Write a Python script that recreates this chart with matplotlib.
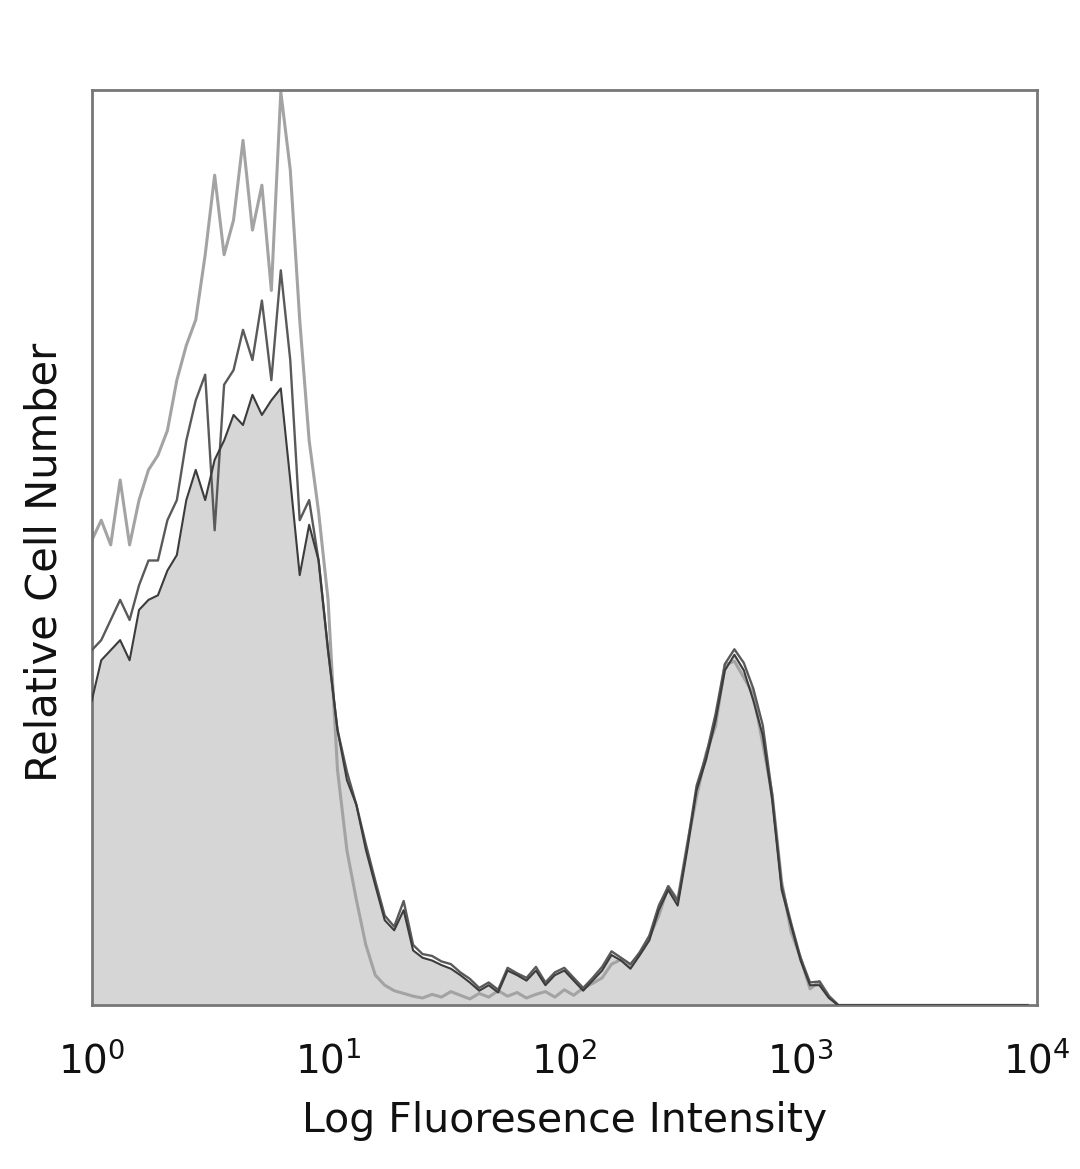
import numpy as np
import matplotlib
matplotlib.use("Agg")
import matplotlib.pyplot as plt

# channel positions (log10 of fluorescence), 25 channels per decade
log_step = 0.04
n_ch = 100

sample_filled = [33.3, 37.7, 38.8, 39.9, 37.7, 43.2, 44.3, 44.8, 47.5, 49.2,
                 55.2, 58.5, 55.2, 59.6, 61.7, 64.5, 63.4, 66.7, 64.5, 66.1,
                 67.4, 57.4, 47.0, 52.5, 48.6, 38.8, 30.1, 24.6, 21.9, 17.0,
                 13.1, 9.3, 8.2, 10.4, 6.0, 5.2, 4.9, 4.4, 4.0, 3.3,
                 2.5, 1.6, 2.2, 1.4, 3.8, 3.3, 2.7, 3.8, 2.2, 3.3,
                 3.8, 2.7, 1.6, 2.7, 3.8, 5.5, 4.9, 4.0, 5.5, 7.1,
                 10.4, 12.6, 10.9, 16.9, 23.5, 26.8, 31.1, 36.6, 38.3, 36.6,
                 33.3, 29.5, 22.4, 12.6, 8.7, 4.9, 2.2, 2.2, 0.8, 0.0,
                 0, 0, 0, 0, 0, 0, 0, 0, 0, 0,
                 0, 0, 0, 0, 0, 0, 0, 0, 0, 0]

sample_dark = [38.8, 39.9, 42.1, 44.3, 42.1, 45.9, 48.6, 48.6, 53.0, 55.2,
               61.7, 66.1, 68.9, 51.9, 67.8, 69.4, 73.8, 70.5, 77.0, 68.3,
               80.3, 70.5, 53.0, 55.2, 48.6, 38.8, 30.1, 25.5, 21.9, 17.6,
               13.6, 9.8, 8.6, 11.4, 6.6, 5.6, 5.4, 4.8, 4.5, 3.6,
               2.9, 1.9, 2.5, 1.7, 4.1, 3.5, 3.0, 4.2, 2.5, 3.6,
               4.1, 3.0, 1.9, 3.0, 4.2, 5.9, 5.2, 4.5, 5.8, 7.6,
               10.9, 13.0, 11.4, 17.4, 24.0, 27.3, 31.8, 37.3, 38.9, 37.4,
               34.6, 30.6, 23.0, 13.1, 9.0, 5.2, 2.5, 2.6, 1.0, 0.0,
               0, 0, 0, 0, 0, 0, 0, 0, 0, 0,
               0, 0, 0, 0, 0, 0, 0, 0, 0, 0]

sample_light = [50.8, 53.0, 50.3, 57.4, 50.3, 55.2, 58.5, 60.1, 62.8, 68.3,
                72.1, 74.9, 82.0, 90.7, 82.0, 85.8, 94.5, 84.7, 89.6, 78.1,
                99.8, 91.3, 74.9, 61.7, 53.9, 44.3, 25.7, 16.9, 11.5, 6.6,
                3.3, 2.2, 1.6, 1.3, 1.0, 0.8, 1.2, 0.9, 1.5, 1.1,
                0.7, 1.3, 0.9, 1.6, 1.0, 1.4, 0.8, 1.2, 1.5, 0.9,
                1.7, 1.1, 1.9, 2.4, 3.0, 4.5, 5.0, 4.2, 5.8, 7.5,
                9.8, 13.0, 11.5, 17.5, 22.8, 27.5, 30.5, 37.2, 37.6, 35.8,
                34.0, 28.6, 23.0, 13.5, 8.0, 5.2, 1.8, 2.6, 1.0, 0.0,
                0, 0, 0, 0, 0, 0, 0, 0, 0, 0,
                0, 0, 0, 0, 0, 0, 0, 0, 0, 0]

tick_values = [1, 10, 100, 1000, 10000]
tick_labels = [r"$10^{0}$", r"$10^{1}$", r"$10^{2}$", r"$10^{3}$", r"$10^{4}$"]
x_label = "Log Fluoresence Intensity"
y_label = "Relative Cell Number"

x = 10 ** (np.arange(n_ch) * log_step)

plt.rcParams["font.family"] = ["DejaVu Sans"]
plt.rcParams["mathtext.fontset"] = "dejavusans"

fig = plt.figure(figsize=(10.8, 11.69), dpi=100)
ax = fig.add_axes([0.085, 0.140, 0.875, 0.783])

ax.fill_between(x, 0, sample_filled, color="#d6d6d6", linewidth=0, zorder=1)
ax.plot(x, sample_light, color="#a3a3a3", linewidth=2.2, zorder=2)
ax.plot(x, sample_dark, color="#5a5a5a", linewidth=1.7, zorder=3)
ax.plot(x, sample_filled, color="#3c3c3c", linewidth=1.5, zorder=4)

ax.set_xscale("log")
ax.set_xlim(1, 10000)
ax.set_ylim(0, 100)
ax.set_xticks(tick_values)
ax.set_xticklabels(tick_labels, fontsize=28)
ax.xaxis.set_minor_locator(matplotlib.ticker.NullLocator())
ax.tick_params(axis="x", length=0, pad=26, colors="#111111")
ax.set_yticks([])

ax.set_xlabel(x_label, fontsize=29.5, labelpad=14, color="#111111")
ax.set_ylabel(y_label, fontsize=30, color="#111111")
ax.yaxis.set_label_coords(-0.028, 0.484)

for s in ax.spines.values():
    s.set_color("#777777")
    s.set_linewidth(2.0)

fig.savefig("out.png", dpi=100)
